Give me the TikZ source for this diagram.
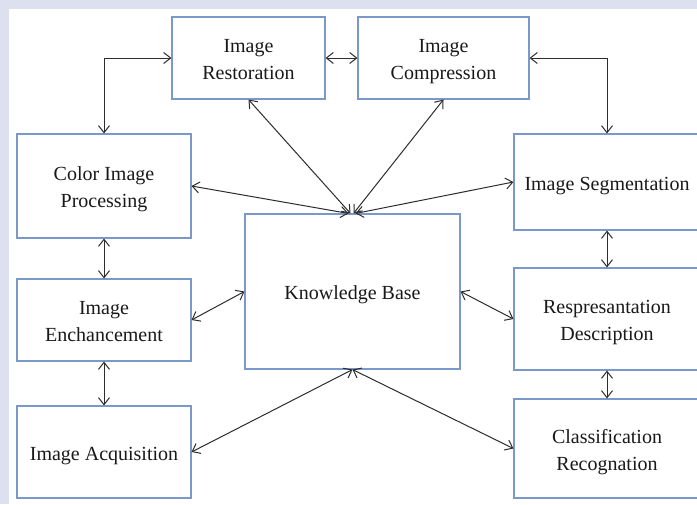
\documentclass[tikz,border=0pt]{standalone}
\usepackage{fontspec}
\setmainfont{Liberation Serif}
\usetikzlibrary{arrows.meta}
\definecolor{pageband}{RGB}{220,224,239}
\definecolor{boxline}{RGB}{122,152,202}
\definecolor{linkgrey}{RGB}{45,45,45}
% centred label block, drawn a little below its nominal place
\newcommand{\stagetext}[1]{\raisebox{-3pt}[\height][\depth]{\begin{tabular}{@{}c@{}}#1\end{tabular}}}
\tikzset{
  stage/.style={draw=boxline, line width=1.1pt, fill=white,
    inner sep=0pt, font=\fontsize{20}{27}\selectfont, text=black!90},
  link/.style={draw=linkgrey, line width=1pt,
    {Straight Barb[length=7pt,width=11pt]}-{Straight Barb[length=7pt,width=11pt]}}
}
\begin{document}
\begin{tikzpicture}[x=1pt,y=-1pt]
  % page background with white panel
  \useasboundingbox (0,0) rectangle (697,504);
  \fill[pageband] (0,0) rectangle (697,504);
  \fill[white] (9,9) rectangle (697,504);

  % processing stages
  \node[stage, minimum width=153pt, minimum height=82pt]  (rest) at (248.5,58)  {\stagetext{Image\\Restoration}};
  \node[stage, minimum width=171pt, minimum height=82pt]  (comp) at (443.5,58)  {\stagetext{Image\\Compression}};
  \node[stage, minimum width=174pt, minimum height=104pt] (color) at (104,186)  {\stagetext{Color Image\\Processing}};
  \node[stage, minimum width=186pt, minimum height=96pt]  (seg) at (607,182)    {\stagetext{Image Segmentation}};
  \node[stage, minimum width=215pt, minimum height=155pt] (kb) at (352.5,291.5) {\stagetext{Knowledge Base}};
  \node[stage, minimum width=174pt, minimum height=82pt]  (enh) at (104,320)    {\stagetext{Image\\Enchancement}};
  \node[stage, minimum width=186pt, minimum height=102pt] (repr) at (607,319)   {\stagetext{Respresantation\\Description}};
  \node[stage, minimum width=174pt, minimum height=92pt]  (acq) at (104,452)    {\stagetext{Image Acquisition}};
  \node[stage, minimum width=186pt, minimum height=99pt]  (cls) at (607,448.5)  {\stagetext{Classification\\Recognation}};

  % links between neighbouring stages
  \draw[link] (color.north) |- (rest.west);
  \draw[link] (rest.east) -- (comp.west);
  \draw[link] (comp.east) -| (seg.north);
  \draw[link] (color.south) -- (enh.north);
  \draw[link] (enh.south) -- (acq.north);
  \draw[link] (seg.south) -- (repr.north);
  \draw[link] (repr.south) -- (cls.north);

  % links to the knowledge base
  \draw[link] (color.east) -- ([xshift=-4pt]kb.north);
  \draw[link] (rest.south) -- ([xshift=-2pt]kb.north);
  \draw[link] (comp.south) -- ([xshift=1pt]kb.north);
  \draw[link] (seg.west) -- ([xshift=3pt]kb.north);
  \draw[link] (enh.east) -- (kb.west);
  \draw[link] (kb.east) -- (repr.west);
  \draw[link] (kb.south) -- (acq.east);
  \draw[link] (kb.south) -- (cls.west);
\end{tikzpicture}
\end{document}
